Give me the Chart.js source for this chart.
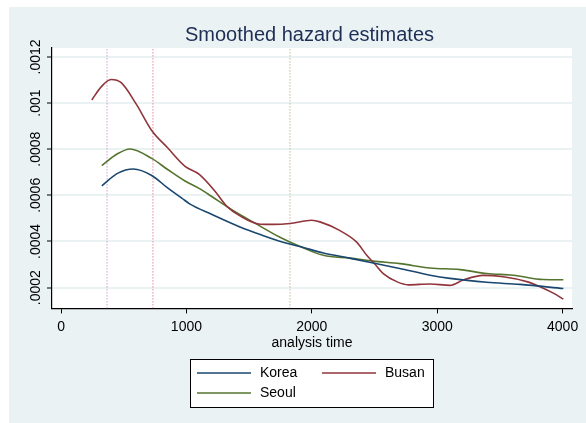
<!DOCTYPE html>
<html>
<head>
<meta charset="utf-8">
<script src="https://cdn.jsdelivr.net/npm/chart.js@4.4.1/dist/chart.umd.min.js"></script>
<style>
  html, body { margin: 0; padding: 0; background: #fff; }
  canvas { display: block; }
</style>
</head>
<body>
<canvas id="hazard" width="586" height="423"></canvas>
<script>
// ── Data ─────────────────────────────────────────────────────────
const koreaX = [325, 450, 577, 723, 850, 963, 1029, 1200, 1427, 1600, 1800, 1906, 2092, 2300, 2490, 2700, 2943, 3102, 3395, 3660, 4006];
const koreaY = [0.000641, 0.000695, 0.000714, 0.000686, 0.000632, 0.000588, 0.000562, 0.000518, 0.000463, 0.000428, 0.000392, 0.000378, 0.000350, 0.000328, 0.000307, 0.000283, 0.000254, 0.000240, 0.000223, 0.000214, 0.000196];

const busanX = [245, 320, 399, 480, 600, 723, 850, 989, 1100, 1228, 1321, 1427, 1587, 1693, 1826, 1999, 2065, 2225, 2358, 2438, 2504, 2570, 2677, 2770, 2943, 3102, 3208, 3368, 3527, 3714, 3820, 3926, 4006];
const busanY = [0.001013, 0.001070, 0.001102, 0.001088, 0.000995, 0.000881, 0.000806, 0.000726, 0.000692, 0.000618, 0.000553, 0.000511, 0.000475, 0.000474, 0.000478, 0.000492, 0.000485, 0.000447, 0.000397, 0.000340, 0.000301, 0.000261, 0.000226, 0.000212, 0.000216, 0.000210, 0.000233, 0.000253, 0.000247, 0.000226, 0.000204, 0.000176, 0.000150];

const seoulX = [325, 450, 550, 723, 850, 989, 1108, 1202, 1348, 1561, 1746, 1906, 2092, 2305, 2490, 2703, 2943, 3182, 3395, 3607, 3846, 4006];
const seoulY = [0.000729, 0.000780, 0.000801, 0.000760, 0.000712, 0.000662, 0.000628, 0.000595, 0.000542, 0.000475, 0.000418, 0.000378, 0.000340, 0.000328, 0.000315, 0.000304, 0.000285, 0.000278, 0.000261, 0.000254, 0.000235, 0.000234];

// dotted reference lines (analysis time)
const refTimes  = [367, 733, 1826];
const refColors = ["#b86cbf", "#d9506f", "#a8936f"];

const xTicks = [0, 1000, 2000, 3000, 4000];
const yTicks = [0.0002, 0.0004, 0.0006, 0.0008, 0.001, 0.0012];
const yTickLabels = [".0002", ".0004", ".0006", ".0008", ".001", ".0012"];

const X_MIN = -72, X_MAX = 4075;
const Y_MIN = 0.00011, Y_MAX = 0.0012385;

// ── Helpers ──────────────────────────────────────────────────────
const FONT = '"Liberation Sans", Arial, sans-serif';
const BG = "#eaf2f3";

function pts(xs, ys) {
  return xs.map((x, i) => ({ x, y: ys[i] }));
}

function series(label, xs, ys, color) {
  return {
    label,
    data: pts(xs, ys),
    borderColor: color,
    borderWidth: 1.6,
    pointRadius: 0,
    fill: false,
    cubicInterpolationMode: "monotone",
    order: 1,
  };
}

const refSets = refTimes.map((t, i) => ({
  label: "",
  data: [{ x: t, y: Y_MIN }, { x: t, y: Y_MAX }],
  borderColor: refColors[i],
  borderWidth: 1,
  borderDash: [1, 2],
  pointRadius: 0,
  fill: false,
  order: 5,
}));

// ── Plugins ──────────────────────────────────────────────────────
const backdrop = {
  id: "backdrop",
  beforeDraw(chart) {
    const { ctx, chartArea: a } = chart;
    ctx.save();
    ctx.fillStyle = BG;
    ctx.fillRect(9, 7, chart.width - 9, chart.height - 7);
    ctx.fillStyle = "#fff";
    ctx.fillRect(a.left, a.top, a.right - a.left, a.bottom - a.top);
    ctx.restore();
  },
};

// y tick labels rotated like Stata's
const yLabels = {
  id: "yLabels",
  afterDraw(chart) {
    const { ctx } = chart;
    const ys = chart.scales.y;
    ctx.save();
    ctx.fillStyle = "#000";
    ctx.font = "14px " + FONT;
    ctx.textAlign = "center";
    ctx.textBaseline = "middle";
    yTicks.forEach((v, i) => {
      ctx.save();
      ctx.translate(36, ys.getPixelForValue(v));
      ctx.rotate(-Math.PI / 2);
      ctx.fillText(yTickLabels[i], 0, 0);
      ctx.restore();
    });
    ctx.restore();
  },
};

// two-column legend box under the axis title
const boxLegend = {
  id: "boxLegend",
  afterDraw(chart) {
    const { ctx } = chart;
    const items = chart.data.datasets.filter((d) => d.label);
    const bx = 190, by = 359, bw = 243, bh = 48;
    ctx.save();
    ctx.fillStyle = "#fff";
    ctx.fillRect(bx, by, bw, bh);
    ctx.strokeStyle = "#000";
    ctx.lineWidth = 1;
    ctx.strokeRect(bx + 0.5, by + 0.5, bw, bh);
    ctx.font = "14px " + FONT;
    ctx.textBaseline = "middle";
    ctx.fillStyle = "#000";
    items.forEach((d, i) => {
      const col = i % 2, row = Math.floor(i / 2);
      const lx = bx + 7 + col * 125;
      const ly = by + 14 + row * 20;
      ctx.strokeStyle = d.borderColor;
      ctx.lineWidth = 1.6;
      ctx.beginPath();
      ctx.moveTo(lx, ly);
      ctx.lineTo(lx + 54, ly);
      ctx.stroke();
      ctx.fillText(d.label, lx + 63, ly);
    });
    ctx.restore();
  },
};

// ── Chart ────────────────────────────────────────────────────────
new Chart(document.getElementById("hazard"), {
  type: "line",
  data: {
    datasets: [
      series("Korea", koreaX, koreaY, "#1a476f"),
      series("Busan", busanX, busanY, "#90353b"),
      series("Seoul", seoulX, seoulY, "#55752f"),
      ...refSets,
    ],
  },
  options: {
    responsive: false,
    animation: false,
    devicePixelRatio: 1,
    layout: { padding: { left: 47, right: 14, top: 0, bottom: 71 } },
    plugins: {
      legend: { display: false },
      tooltip: { enabled: false },
      title: {
        display: true,
        text: "Smoothed hazard estimates",
        color: "#1e2e55",
        font: { family: FONT, size: 20, weight: "normal" },
        padding: { top: 23, bottom: 1 },
      },
    },
    scales: {
      x: {
        type: "linear",
        min: X_MIN,
        max: X_MAX,
        afterBuildTicks: (s) => { s.ticks = xTicks.map((v) => ({ value: v })); },
        ticks: {
          color: "#000",
          font: { family: FONT, size: 14 },
          padding: 5,
          maxRotation: 0,
          callback: (v) => String(v),
        },
        grid: { drawOnChartArea: false, tickColor: "#000", tickLength: 5, tickWidth: 1 },
        border: { color: "#000", width: 1.2 },
        title: {
          display: true,
          text: "analysis time",
          color: "#000",
          font: { family: FONT, size: 14 },
          padding: { top: -5, bottom: 0 },
        },
      },
      y: {
        type: "linear",
        min: Y_MIN,
        max: Y_MAX,
        afterBuildTicks: (s) => { s.ticks = yTicks.map((v) => ({ value: v })); },
        ticks: { display: false },
        grid: { color: BG, lineWidth: 2, tickColor: "#000", tickLength: 5, tickWidth: 1 },
        border: { color: "#000", width: 1.2 },
      },
    },
  },
  plugins: [backdrop, yLabels, boxLegend],
});
</script>
</body>
</html>
